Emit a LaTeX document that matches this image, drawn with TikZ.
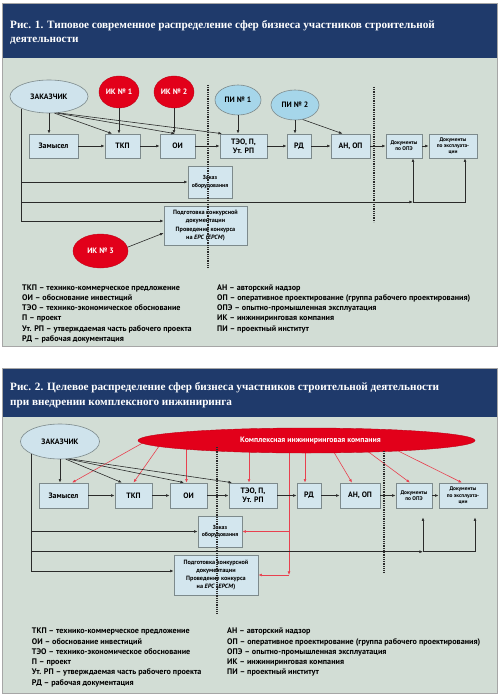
\documentclass[tikz,border=0pt]{standalone}
\usepackage{fontspec}
\setmainfont{PT Sans}
\newfontfamily\ttlfont{Liberation Serif}
\usetikzlibrary{arrows.meta,shapes.geometric}
\pgfdeclarelayer{back}
\pgfdeclarelayer{bg}
\pgfsetlayers{back,bg,main}
\definecolor{hdr}{HTML}{1F3A6B}
\definecolor{panel}{HTML}{D2DDD5}
\definecolor{boxfill}{HTML}{D3E6EE}
\definecolor{boxline}{HTML}{7D8A8C}
\definecolor{custfill}{HTML}{CFE3EC}
\definecolor{pifill}{HTML}{A6D6EA}
\definecolor{ikred}{HTML}{E2001A}
\definecolor{redline}{HTML}{E8404F}
\definecolor{darkln}{HTML}{2A2A2A}
\tikzset{
 box/.style={draw=boxline, fill=boxfill, line width=0.7pt, inner sep=0pt, align=center, font=\fontsize{7.8}{8.6}\selectfont\bfseries},
 sbox/.style={box, font=\fontsize{5.4}{6.2}\selectfont\bfseries},
 pbox/.style={box, font=\fontsize{6.2}{8.2}\selectfont\bfseries},
 cell/.style={ellipse, draw=boxline, line width=0.6pt, fill=custfill, inner sep=0pt, font=\fontsize{7.8}{9}\selectfont\bfseries},
 pell/.style={cell, fill=pifill},
 rell/.style={ellipse, draw=ikred!85!black, line width=0.4pt, fill=ikred, text=white, inner sep=0pt, font=\fontsize{7.8}{9}\selectfont\bfseries},
 ar/.style={-{Latex[length=3.6pt,width=2.8pt]}, line width=0.6pt, draw=darkln},
 rar/.style={-{Latex[length=3.6pt,width=2.8pt]}, line width=0.6pt, draw=redline},
 dots/.style={line width=1.5pt, dash pattern=on 0.9pt off 0.9pt, draw=darkln},
 leg/.style={anchor=base west, inner sep=0pt, font=\fontsize{8.1}{9}\selectfont\bfseries},
 ttl/.style={anchor=base west, inner sep=0pt, text=white, font=\ttlfont\fontsize{11.2}{12}\selectfont\bfseries},
}
\begin{document}
\begin{tikzpicture}[x=1pt,y=-1pt]
\useasboundingbox (0,0) rectangle (500,695);
\begin{pgfonlayer}{back}
\fill[white] (0,0) rectangle (500,695);
\fill[panel] (2,3) rectangle (497,346);
\fill[hdr] (2,3) rectangle (497,58);
\fill[panel] (2,368) rectangle (497,693);
\fill[hdr] (2,368) rectangle (497,417);
\draw[gray!70, line width=0.4pt] (2,3) rectangle (497,346);
\draw[gray!70, line width=0.4pt] (2,368) rectangle (497,693);
\end{pgfonlayer}
\node[ttl] (t1a) at (10,28.5) {Рис. 1. Типовое современное распределение сфер бизнеса участников строительной};
\node[ttl] (t1b) at (10,42.5) {деятельности};
\node[ttl] (t2a) at (10,390) {Рис. 2. Целевое распределение сфер бизнеса участников строительной деятельности};
\node[ttl] (t2b) at (10,405) {при внедрении комплексного инжиниринга};

% ================= PANEL 1 =================
\node[cell, minimum width=78, minimum height=33] (z1) at (49,96.5) {ЗАКАЗЧИК};
\node[rell, minimum width=40, minimum height=32] (ik1) at (119,92) {ИК № 1};
\node[rell, minimum width=40, minimum height=32] (ik2) at (174,92) {ИК № 2};
\node[pell, minimum width=46, minimum height=30] (pi1) at (238,100) {ПИ № 1};
\node[pell, minimum width=48, minimum height=30] (pi2) at (295,105) {ПИ № 2};
\node[box, minimum width=49, minimum height=24] (zam1) at (53.5,146) {Замысел};
\node[box, minimum width=35, minimum height=24] (tkp1) at (122.5,146) {ТКП};
\node[box, minimum width=35, minimum height=24] (oi1) at (177.5,146) {ОИ};
\node[box, minimum width=47, minimum height=24] (teo1) at (243.5,146) {ТЭО, П,\\Ут. РП};
\node[box, minimum width=24, minimum height=24] (rd1) at (299,146) {РД};
\node[box, minimum width=39, minimum height=24] (an1) at (350.5,146) {АН, ОП};
\node[sbox, minimum width=36, minimum height=24] (dop1) at (404,146) {Документы\\по ОПЭ};
\node[sbox, minimum width=48, minimum height=24] (dex1) at (453,146) {Документы\\по эксплуата-\\ции};
\node[pbox, font=\fontsize{5.8}{7.4}\selectfont\bfseries, minimum width=44, minimum height=32] (zak1) at (210,182) {Заказ\\оборудования};
\node[pbox, minimum width=83, minimum height=39] (pod1) at (205.5,225.5) {Подготовка конкурсной\\документации\\Проведение конкурса\\на \textit{EPC} (\textit{EPCM})};
\node[rell, minimum width=55, minimum height=34] (ik3) at (100.5,251) {ИК № 3};

% connectors panel 1
\draw[ar] (zam1) -- (tkp1);
\draw[ar] (tkp1) -- (oi1);
\draw[ar] (oi1) -- (teo1);
\draw[ar] (teo1) -- (rd1);
\draw[ar] (rd1) -- (an1);
\draw[ar] (an1) -- (dop1);
\draw[ar] (dop1) -- (dex1);
\draw[ar] (z1.south) -- (z1.south |- zam1.north);
\draw[ar] (z1.-72) -- ([xshift=-10.5pt]tkp1.north);
\draw[ar] (z1.-66) -- ([xshift=-2.5pt]oi1.north);
\draw[ar] (z1.-61) -- ([xshift=-21.5pt]teo1.north);
\draw[ar] (ik1.south) -- (ik1.south |- tkp1.north);
\draw[ar] (ik2.south) -- (ik2.south |- oi1.north);
\draw[ar] (pi1.south) -- (pi1.south |- teo1.north);
\draw[ar] (pi2.south) -- (pi2.south |- rd1.north);
\draw[ar] (pi2.-62) -- ([xshift=-8pt]an1.north);
\draw[ar] (z1.204) |- (zak1.west);
\draw[ar] (z1.204) |- ([yshift=4.5pt]pod1.west);
\coordinate (j1) at (413,202);
\coordinate (j2) at (465,202);
\draw[ar] (z1.204) |- (j1);
\draw[ar] (j1) -- (j1 |- dop1.south);
\draw[ar] (j1) -- (j2) -- (j2 |- dex1.south);
\draw[ar] (ik3.8) -- ([yshift=-7.5pt]pod1.west);
\draw[dots] (208,85) -- (208,268);
\draw[dots] (374,87) -- (374,222);

% legend panel 1
\foreach \t [count=\i from 0] in {ТКП – технико-коммерческое предложение, ОИ – обоснование инвестиций, ТЭО – технико-экономическое обоснование, П – проект, Ут. РП – утверждаемая часть рабочего проекта, РД – рабочая документация}
  \node[leg] (la\i) at (22,290+10.3*\i) {\t};
\foreach \t [count=\i from 0] in {АН – авторский надзор, ОП – оперативное проектирование (группа рабочего проектирования), ОПЭ – опытно-промышленная эксплуатация, ИК – инжиниринговая компания, ПИ – проектный институт}
  \node[leg] (lb\i) at (217,290+10.3*\i) {\t};

% ================= PANEL 2 =================
\node[cell, minimum width=79, minimum height=35] (z2) at (60,441.5) {ЗАКАЗЧИК};
\node[rell, minimum width=337, minimum height=25] (kik) at (306.5,440.5) {\hspace*{8pt}Комплексная инжиниринговая компания};
\node[box, minimum width=49, minimum height=25] (zam2) at (63.5,495.5) {Замысел};
\node[box, minimum width=37, minimum height=25] (tkp2) at (133.5,495.5) {ТКП};
\node[box, minimum width=37, minimum height=25] (oi2) at (188.5,495.5) {ОИ};
\node[box, minimum width=48, minimum height=25] (teo2) at (253,495.5) {ТЭО, П,\\Ут. РП};
\node[box, minimum width=24, minimum height=25] (rd2) at (309,495.5) {РД};
\node[box, minimum width=40, minimum height=25] (an2) at (360,495.5) {АН, ОП};
\node[sbox, minimum width=36, minimum height=25] (dop2) at (414,495.5) {Документы\\по ОПЭ};
\node[sbox, minimum width=48, minimum height=25] (dex2) at (463,495.5) {Документы\\по эксплуата-\\ции};
\node[pbox, font=\fontsize{5.8}{7.4}\selectfont\bfseries, minimum width=44, minimum height=31] (zak2) at (220,531.5) {Заказ\\оборудования};
\node[pbox, minimum width=84, minimum height=40] (pod2) at (216,575) {Подготовка конкурсной\\документации\\Проведение конкурса\\на \textit{EPC} (\textit{EPCM})};

% connectors panel 2
\draw[ar] (zam2) -- (tkp2);
\draw[ar] (tkp2) -- (oi2);
\draw[ar] (oi2) -- (teo2);
\draw[ar] (teo2) -- (rd2);
\draw[ar] (rd2) -- (an2);
\draw[ar] (an2) -- (dop2);
\draw[ar] (dop2) -- (dex2);
\draw[ar] (z2.south) -- (z2.south |- zam2.north);
\draw[ar] (z2.-72) -- ([xshift=-11.5pt]tkp2.north);
\draw[ar] (z2.-66) -- ([xshift=-4.5pt]oi2.north);
\draw[ar] (z2.-61) -- ([xshift=-21pt]teo2.north);
\draw[ar] (z2.204) |- (zak2.west);
\draw[ar] (z2.204) |- ([yshift=4pt]pod2.west);
\coordinate (j3) at (423,551.7);
\coordinate (j4) at (475,551.7);
\draw[ar] (z2.204) |- (j3);
\draw[ar] (j3) -- ([yshift=-9pt]j3 |- dop2.south);
\draw[ar] (j3) -- (j4) -- ([yshift=-9pt]j4 |- dex2.south);
\coordinate (r1) at (289,575);
\begin{pgfonlayer}{bg}
\draw[rar] ([xshift=-159.5pt]kik.center) -- ([xshift=8.5pt]zam2.north);
\draw[rar] ([xshift=-143.5pt]kik.center) -- (tkp2.north);
\draw[rar] ([xshift=-2pt]oi2.north |- kik.center) -- ([xshift=-2pt]oi2.north);
\draw[rar] ([xshift=-4pt]teo2.north |- kik.center) -- ([xshift=-4pt]teo2.north);
\draw[rar] ([xshift=-4pt]rd2.north |- kik.center) -- ([xshift=-4pt]rd2.north);
\draw[rar] ([xshift=20.5pt]kik.center) -- ([xshift=-8pt]an2.north);
\draw[rar] ([xshift=46.5pt]kik.center) -- ([xshift=-4pt]dop2.north);
\draw[rar] ([xshift=70.5pt]kik.center) -- ([xshift=-1pt]dex2.north);
\draw[rar] (r1 |- kik.center) -- (r1);
\end{pgfonlayer}
\draw[rar] (r1 |- zak2.east) -- (zak2.east);
\draw[rar] (r1) -- (pod2.east);
\draw[dots] (217,447) -- (217,613);
\draw[dots] (384,451) -- (384,572);

% legend panel 2
\foreach \t [count=\i from 0] in {ТКП – технико-коммерческое предложение, ОИ – обоснование инвестиций, ТЭО – технико-экономическое обоснование, П – проект, Ут. РП – утверждаемая часть рабочего проекта, РД – рабочая документация}
  \node[leg] (lc\i) at (31.7,633.7+10.3*\i) {\t};
\foreach \t [count=\i from 0] in {АН – авторский надзор, ОП – оперативное проектирование (группа рабочего проектирования), ОПЭ – опытно-промышленная эксплуатация, ИК – инжиниринговая компания, ПИ – проектный институт}
  \node[leg] (ld\i) at (227,633.7+10.3*\i) {\t};
\end{tikzpicture}
\end{document}
